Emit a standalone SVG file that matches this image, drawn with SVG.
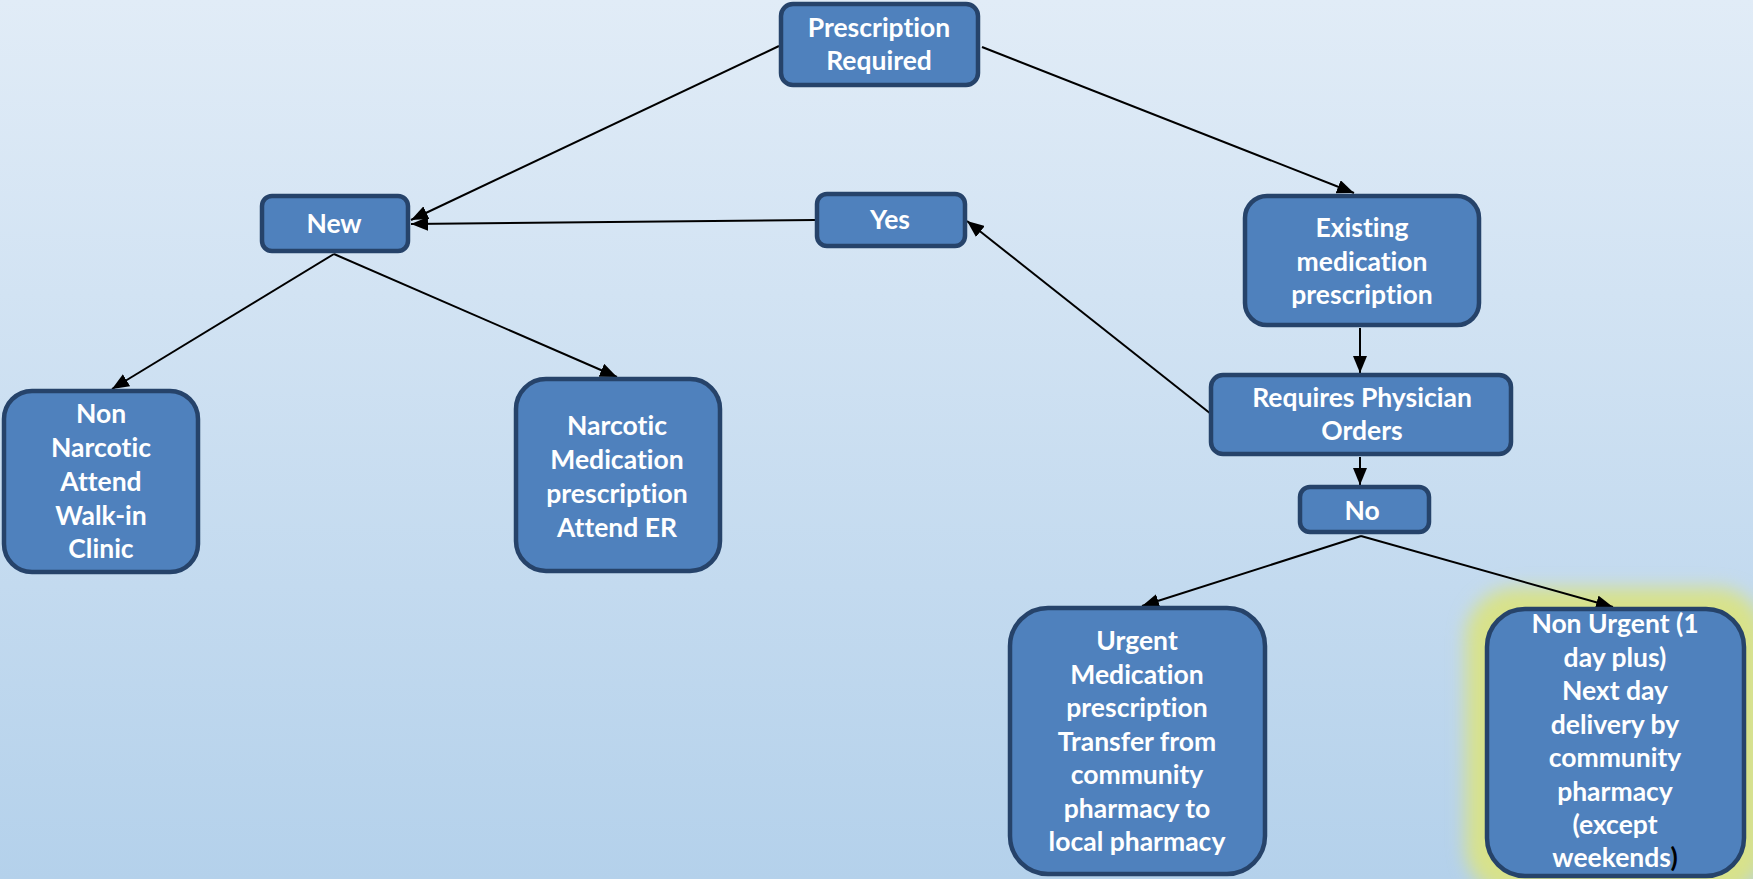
<svg xmlns="http://www.w3.org/2000/svg" width="1753" height="879" viewBox="0 0 1753 879">
<defs>
<linearGradient id="bg" x1="0" y1="0" x2="0" y2="1">
<stop offset="0" stop-color="#e1ecf7"/>
<stop offset="1" stop-color="#b4d1eb"/>
</linearGradient>
<filter id="glow" x="-30%" y="-30%" width="160%" height="160%">
<feGaussianBlur stdDeviation="9"/>
</filter>
<marker id="arr" markerUnits="userSpaceOnUse" markerWidth="18" markerHeight="14" refX="17" refY="7" orient="auto">
<path d="M0,0 L17,7 L0,14 z" fill="#000"/>
</marker>
<style>
.box{fill:#4f81bd;stroke:#26436a;stroke-width:4.5}
.t{font-family:Lato,"Open Sans","Liberation Sans",sans-serif;font-weight:700;font-size:26.5px;fill:#fff;text-anchor:middle;font-variant-ligatures:none}
.e{stroke:#000;stroke-width:2;fill:none;marker-end:url(#arr)}
</style>
</defs>
<rect x="0" y="0" width="1753" height="879" fill="url(#bg)"/>
<rect id="non-urgent-glow" x="1466" y="588" width="299" height="309" rx="50" fill="#d8e28a" filter="url(#glow)"/>
<g id="connectors">
<line class="e" x1="779" y1="46" x2="411" y2="220"/>
<line class="e" x1="982" y1="47" x2="1354" y2="193"/>
<line class="e" x1="815" y1="220" x2="411" y2="224"/>
<line class="e" x1="1211" y1="414" x2="967" y2="221"/>
<line class="e" x1="334" y1="254" x2="112" y2="389"/>
<line class="e" x1="334" y1="254" x2="617" y2="377"/>
<line class="e" x1="1360" y1="328" x2="1360" y2="373"/>
<line class="e" x1="1360" y1="457" x2="1360" y2="485"/>
<line class="e" x1="1361" y1="536" x2="1142" y2="606"/>
<line class="e" x1="1361" y1="536" x2="1613" y2="607"/>
</g>
<g id="prescription-required">
<rect class="box" x="781" y="4" width="197" height="81" rx="12"/>
<text class="t" x="879" y="37">Prescription</text>
<text class="t" x="879" y="70">Required</text>
</g>
<g id="new">
<rect class="box" x="262" y="196" width="146" height="55" rx="10"/>
<text class="t" x="334" y="233">New</text>
</g>
<g id="yes">
<rect class="box" x="817" y="194" width="148" height="52" rx="10"/>
<text class="t" x="890" y="229">Yes</text>
</g>
<g id="existing">
<rect class="box" x="1245" y="196" width="234" height="129" rx="22"/>
<text class="t" x="1362" y="237">Existing</text>
<text class="t" x="1362" y="271">medication</text>
<text class="t" x="1362" y="304">prescription</text>
</g>
<g id="requires">
<rect class="box" x="1211" y="375" width="300" height="79" rx="12"/>
<text class="t" x="1362" y="407">Requires Physician</text>
<text class="t" x="1362" y="440">Orders</text>
</g>
<g id="no">
<rect class="box" x="1300" y="487" width="129" height="45" rx="10"/>
<text class="t" x="1362" y="520">No</text>
</g>
<g id="non-narcotic">
<rect class="box" x="4" y="391" width="194" height="181" rx="28"/>
<text class="t" x="101" y="423">Non</text>
<text class="t" x="101" y="457">Narcotic</text>
<text class="t" x="101" y="491">Attend</text>
<text class="t" x="101" y="525">Walk-in</text>
<text class="t" x="101" y="558">Clinic</text>
</g>
<g id="narcotic">
<rect class="box" x="516" y="379" width="204" height="192" rx="30"/>
<text class="t" x="617" y="435">Narcotic</text>
<text class="t" x="617" y="469">Medication</text>
<text class="t" x="617" y="503">prescription</text>
<text class="t" x="617" y="537">Attend ER</text>
</g>
<g id="urgent">
<rect class="box" x="1010" y="608" width="255" height="266" rx="38"/>
<text class="t" x="1137" y="650">Urgent</text>
<text class="t" x="1137" y="684">Medication</text>
<text class="t" x="1137" y="717">prescription</text>
<text class="t" x="1137" y="751">Transfer from</text>
<text class="t" x="1137" y="784">community</text>
<text class="t" x="1137" y="818">pharmacy to</text>
<text class="t" x="1137" y="851">local pharmacy</text>
</g>
<g id="non-urgent">
<rect class="box" x="1487" y="609" width="257" height="267" rx="38"/>
<text class="t" x="1615" y="633">Non Urgent (1</text>
<text class="t" x="1615" y="667">day plus)</text>
<text class="t" x="1615" y="700">Next day</text>
<text class="t" x="1615" y="734">delivery by</text>
<text class="t" x="1615" y="767">community</text>
<text class="t" x="1615" y="801">pharmacy</text>
<text class="t" x="1615" y="834">(except</text>
<text class="t" x="1615" y="867">weekends<tspan fill="#000">)</tspan></text>
</g>
</svg>
